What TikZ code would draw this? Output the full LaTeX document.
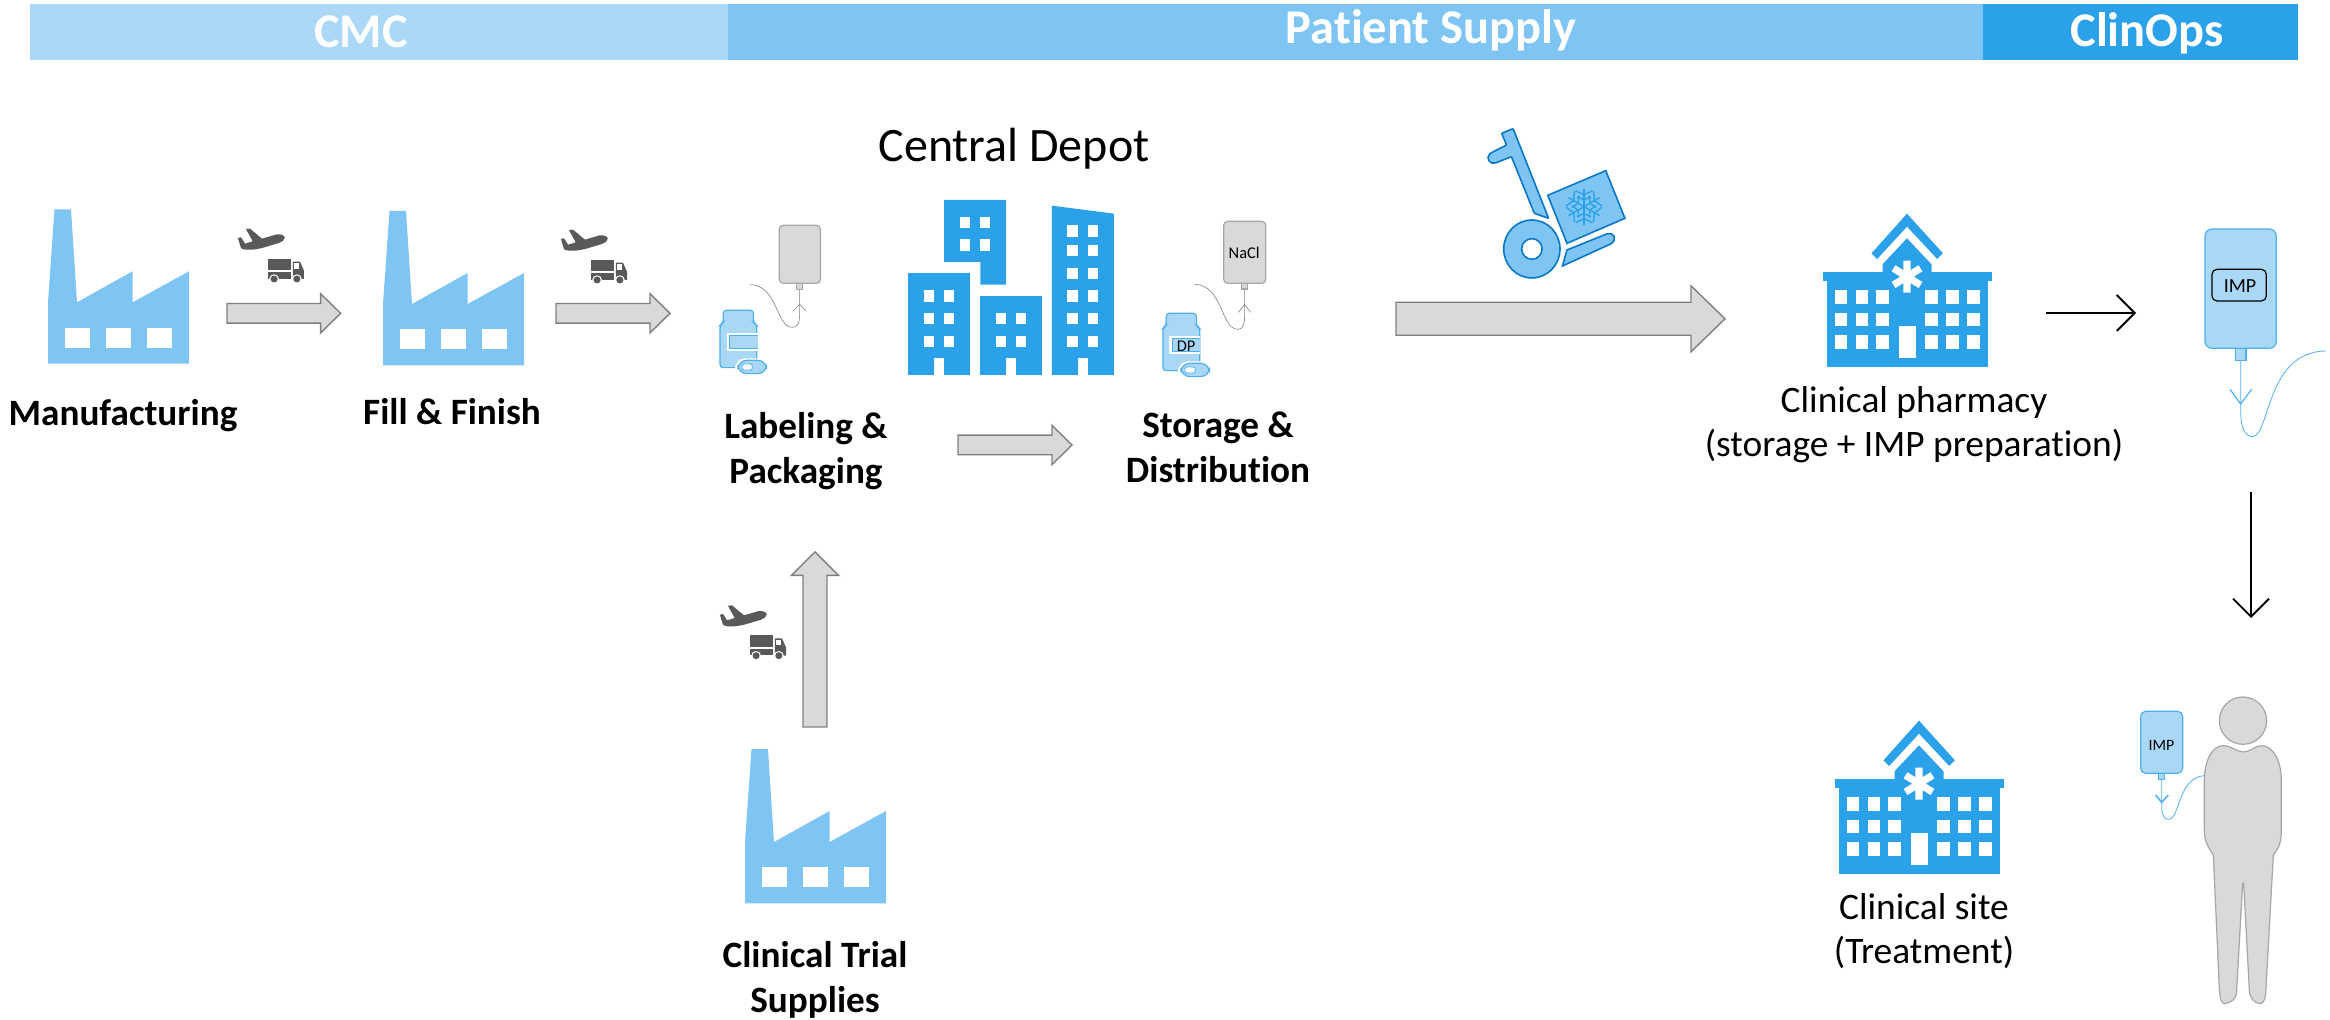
\documentclass[tikz,border=0pt]{standalone}
\usepackage{fontspec}
\setmainfont[Ligatures=CommonOff]{Carlito}
\usetikzlibrary{calc,arrows.meta}
\definecolor{barA}{HTML}{ABD8F7}
\definecolor{barB}{HTML}{7FC5F3}
\definecolor{barC}{HTML}{2AA1E9}
\definecolor{cartline}{HTML}{0A78C8}
\definecolor{bagfill}{HTML}{A9D8F7}
\definecolor{bagline}{HTML}{4FB0EE}
\definecolor{greyfill}{HTML}{D9D9D9}
\definecolor{greyline}{HTML}{A6A6A6}
\definecolor{arrline}{HTML}{7F7F7F}
\definecolor{iconDark}{HTML}{595959}
\tikzset{
  x=0.5pt,y=-0.5pt,
  bartext/.style={text=white,font=\fontsize{24.2}{28}\selectfont\bfseries,inner sep=0pt,anchor=base},
  steplabel/.style={align=center,font=\fontsize{18.6}{22.5}\selectfont\bfseries,inner sep=0pt},
  plainlabel/.style={align=center,font=\fontsize{18.7}{22}\selectfont,inner sep=0pt},
  blockline/.style={fill=greyfill,draw=arrline,line width=0.7pt,line join=miter},
  thinarrow/.style={draw=black,line width=0.9pt,-{Straight Barb[length=9pt,width=18pt,line width=0.9pt]}},
  zoomA/.style={shift={(0,180)},xscale=0.4464,yscale=0.3333},
  zoomB/.style={shift={(680,180)},xscale=0.4082,yscale=0.3333},
  zoomC/.style={shift={(1380,110)},xscale=0.4082,yscale=0.3333},
  cartpart/.style={fill=barB,draw=cartline,line width=0.8pt,line join=miter},
  bagbody/.style={fill=bagfill,draw=bagline,line width=0.6pt},
  greybag/.style={fill=greyfill,draw=greyline,line width=0.6pt},
  tube/.style={draw=bagline,line width=0.4pt},
  greytube/.style={draw=arrline,line width=0.3pt},
}
\newcommand{\factoryicon}[2]{%
  \begin{scope}[shift={(#1,#2)}]
    \fill[barB] (6.5,0)--(23,0)--(29,93)--(84.6,62)--(84.6,93)--(141,62)--(141,154.4)--(0,154.4)--(0,93)--cycle;
    \foreach \wx in {17,58,99}{\fill[white] (\wx,118.4) rectangle ++(25,20);}
  \end{scope}}
\newcommand{\planetruck}[2]{%
  \begin{scope}[shift={(#1,#2)}]
  \begin{scope}[zoomA]
    \fill[iconDark] (638,172) .. controls (636,165) and (628,162) .. (620,163) -- (587,176) -- (560,146) -- (551,147) -- (566,184) -- (549,191) -- (540,172) -- (533,174) -- (540,205) .. controls (548,212) and (570,210) .. (590,203) -- (625,189) .. controls (632,186) and (638,180) .. (638,172) -- cycle;
    \fill[iconDark] (600,236) rectangle (652,270);
    \fill[iconDark] (600,276) rectangle (652,296);
    \fill[iconDark] (656,245)--(672,245)--(681,272)--(681,297)--(656,297)--cycle;
    \fill[white] (659,250) rectangle (669,266);
    \foreach \wx in {614,665}{
      \fill[white] (\wx,297) circle [x radius=11, y radius=14];
      \fill[iconDark] (\wx,297) circle [x radius=8, y radius=10.5];
    }
  \end{scope}
  \end{scope}}
\newcommand{\blockarrow}[5]{%
  \coordinate (headbase) at ($(#2)!#5!(#1)$);
  \draw[blockline] ($(#1)!#3!90:(#2)$) -- ($(headbase)!#3!90:(#2)$) -- ($(headbase)!#4!90:(#2)$) -- (#2)
    -- ($(headbase)!#4!-90:(#2)$) -- ($(headbase)!#3!-90:(#2)$) -- ($(#1)!#3!-90:(#2)$) -- cycle;}
\newcommand{\bottleicon}[3]{%
  \begin{scope}[shift={(#1,#2)}]
    \draw[bagbody,rounded corners=1.5pt] (106,391)--(180,391)--(180,428)--(188,435)--(188,563)--(98,563)--(98,435)--(106,428)--cycle;
    \fill[white] (114,460) rectangle (190,513);
    \draw[bagbody] (190,467)--(122,467)--(122,505)--(190,505);
    \fill[white,rounded corners=5pt] (135,535) rectangle (218,587);
    \draw[bagbody,rounded corners=4.5pt] (142,541) rectangle (212,581);
    \draw[fill=white,draw=bagline,line width=0.4pt,rounded corners=1pt] (152,552) rectangle (177,570);
    #3
  \end{scope}}
\newcommand{\hospitalicon}[2]{%
  \begin{scope}[shift={(#1,#2)}]
  \begin{scope}[zoomC]
    \fill[barC] (1204,430)--(1291,311)--(1379,430)--(1365,447)--(1291,350)--(1218,447)--cycle;
    \fill[barC] (1231,486)--(1231,463)--(1291,385)--(1351,463)--(1351,486)--cycle;
    \fill[barC] (1084,486) rectangle (1499,513);
    \fill[barC] (1094,513) rectangle (1489,771);
    \foreach \wy in {540,608,676}{
      \foreach \wx in {1114,1165,1215,1336,1387,1438}{
        \fill[white] (\wx,\wy) rectangle ++(31,41);
      }
    }
    \fill[white] (1271,649) rectangle (1312,745);
    \draw[white,line width=3.6pt] (1291,452)--(1291,548) (1258,475)--(1324,525) (1258,525)--(1324,475);
  \end{scope}
  \end{scope}}
\begin{document}
\begin{tikzpicture}
\useasboundingbox (0,0) rectangle (2330,1020);
% top bar
\fill[barA] (30,4) rectangle (728,60);
\fill[barB] (728,4) rectangle (1983,60);
\fill[barC] (1983,4) rectangle (2298,60);
\node[bartext] (cmc) at (361,48) {CMC};
\node[bartext] (patient) at (1431,44) {Patient Supply};
\node[bartext] (clinops) at (2147,47) {ClinOps};
% factories
\factoryicon{48}{209.3}
\factoryicon{383}{211}
\factoryicon{745}{749}
\planetruck{0}{0}
\planetruck{323}{1}
\planetruck{482}{376.7}
% labels
\node[steplabel] (manu) at (123,416) {Manufacturing};
\node[steplabel] (fill) at (452,412) {Fill \& Finish};
\node[steplabel] (label) at (806,451) {Labeling \&\\Packaging};
\node[steplabel] (stor) at (1218,447) {Storage \&\\Distribution};
\node[steplabel] (trial) at (815,980) {Clinical Trial\\Supplies};
\node[inner sep=0pt,font=\fontsize{24}{28}\selectfont] (depot) at (1014,149) {Central Depot};
\node[plainlabel] (pharm) at (1914,425) {Clinical pharmacy\\(storage + IMP preparation)};
\node[plainlabel] (site) at (1924,931) {Clinical site\\(Treatment)};
% block arrows
\coordinate (a1s) at (227,313.3); \coordinate (a1e) at (340.6,313.3);
\coordinate (a2s) at (556,313.3); \coordinate (a2e) at (670,313.3);
\coordinate (a3s) at (958,445); \coordinate (a3e) at (1072,445);
\coordinate (a4s) at (1396,318.8); \coordinate (a4e) at (1725,318.8);
\coordinate (a5s) at (815,727); \coordinate (a5e) at (815,552);
\blockarrow{a1s}{a1e}{4.9pt}{9.8pt}{10pt}
\blockarrow{a2s}{a2e}{4.9pt}{9.8pt}{10pt}
\blockarrow{a3s}{a3e}{4.9pt}{9.8pt}{10pt}
\blockarrow{a4s}{a4e}{8.25pt}{16.5pt}{17pt}
\blockarrow{a5s}{a5e}{6pt}{11.8pt}{11.7pt}
% central depot and grey bags
\begin{scope}[zoomB]
  \fill[barC] (647,60)--(798,60)--(798,314)--(736,314)--(736,246)--(647,246)--cycle;
  \foreach \wy in {111,178}{\foreach \wx in {685,735}{\fill[white] (\wx,\wy) rectangle ++(25,34);}}
  \fill[barC] (559,280) rectangle (710,585);
  \foreach \wy in {331,399,467}{\foreach \wx in {597,647}{\fill[white] (\wx,\wy) rectangle ++(25,34);}}
  \fill[white] (622,534) rectangle (647,585);
  \fill[barC] (735,348) rectangle (887,585);
  \foreach \wy in {399,467}{\foreach \wx in {773,823}{\fill[white] (\wx,\wy) rectangle ++(25,34);}}
  \fill[white] (798,534) rectangle (823,585);
  \fill[barC] (911,77)--(1063,101)--(1063,585)--(911,585)--cycle;
  \foreach \wy in {136,195,263,331,399,467}{\foreach \wx in {949,1000}{\fill[white] (\wx,\wy) rectangle ++(25,34);}}
  \fill[white] (975,534) rectangle (1000,585);
  % left bag
  \draw[greytube] (172,314) .. controls (240,316) and (235,442) .. (275,442) .. controls (295,442) and (293,410) .. (293,395) -- (293,328);
  \draw[greytube] (278,393)--(293,372)--(308,393);
  \draw[greybag] (286,310) rectangle (300,328);
  \draw[greybag,rounded corners=2pt] (243,136) rectangle (344,310);
  % right bag
  \draw[greytube] (1261,313) .. controls (1330,315) and (1325,448) .. (1366,448) .. controls (1385,448) and (1383,415) .. (1383,397) -- (1383,327);
  \draw[greytube] (1368,397)--(1383,374)--(1398,397);
  \draw[greybag] (1375,310) rectangle (1391,327);
  \draw[greybag,rounded corners=2pt] (1332,124) rectangle (1435,310);
  \node[inner sep=0pt,font=\fontsize{8.2}{10}\selectfont] (nacl) at (1382,220) {NaCl};
  \bottleicon{0}{0}{}
  \bottleicon{1085}{9}{\node[inner sep=0pt,font=\fontsize{8.2}{10}\selectfont] (dp) at (155,491) {DP};}
\end{scope}
% cart
\begin{scope}[zoomC]
  \draw[cartpart,rounded corners=0.4pt] (298,70)--(326,56)--(413,325)--(378,310)--(322,140)--(285,158)
     .. controls (270,165) and (258,145) .. (270,130) -- (310,105) -- cycle;
  \draw[cartpart] (411,256)--(553,182)--(600,325)--(458,400)--cycle;
  \draw[cartpart] (372,417) circle [x radius=69, y radius=87];
  \draw[fill=white,draw=cartline,line width=0.8pt] (372,417) circle [x radius=25, y radius=31];
  \draw[cartpart] (458,420)--(555,372) .. controls (575,365) and (582,390) .. (565,402) -- (447,468)--cycle;
\end{scope}
\begin{scope}[shift={(1584,206.7)},barC,line width=0.7pt]
  \foreach \ang in {30,90,150,210,270,330}{
    \draw[barC] (0,0) -- (\ang:18);
    \draw[barC] (\ang+35:12) -- (\ang:7) -- (\ang-35:12);
    \draw[barC] (\ang+28:18) -- (\ang:12) -- (\ang-28:18);
  }
\end{scope}
% hospitals
\hospitalicon{0}{0}
\hospitalicon{12}{507}
% black arrows
\coordinate (k1s) at (2046,313); \coordinate (k1e) at (2136,313);
\coordinate (k2s) at (2251,492); \coordinate (k2e) at (2251,618);
\draw[thinarrow] (k1s) -- (k1e);
\draw[thinarrow] (k2s) -- (k2e);
% IMP bag
\begin{scope}[shift={(2040,200)},scale=0.3333]
  \draw[tube] (602,481) -- (602,640) .. controls (604,700) and (625,712) .. (640,710) .. controls (690,700) and (680,455) .. (858,453);
  \draw[tube,line width=0.6pt] (570,568)--(602,612)--(635,568);
  \draw[bagbody] (586,445) rectangle (618,481);
  \draw[bagbody,rounded corners=3.5pt] (495,87) rectangle (709,445);
  \draw[black,line width=0.6pt,rounded corners=2.5pt] (516,208) rectangle (679,303);
  \node[inner sep=0pt,font=\fontsize{10}{12}\selectfont] (imp) at (600,258) {IMP};
\end{scope}
% patient
\begin{scope}[shift={(2090,680)},scale=0.3333]
  \draw[greybag] (459,122) circle [radius=71];
  \draw[greybag] (460,216) .. controls (440,216) and (425,197) .. (400,197)
    .. controls (365,197) and (343,245) .. (343,300) -- (343,450)
    .. controls (343,490) and (358,505) .. (370,525) -- (388,925)
    .. controls (390,960) and (395,972) .. (405,971) .. controls (425,968) and (442,955) .. (440,930)
    -- (458,610) -- (461,610) -- (478,930) .. controls (478,955) and (495,970) .. (510,971)
    .. controls (522,971) and (527,955) .. (528,925) -- (550,525)
    .. controls (562,510) and (574,495) .. (574,450) -- (574,300)
    .. controls (574,245) and (550,197) .. (515,197) .. controls (495,197) and (480,216) .. (460,216) -- cycle;
  \draw[tube] (215,298) -- (215,385) .. controls (217,410) and (225,420) .. (238,418) .. controls (270,412) and (265,290) .. (345,287);
  \draw[tube,line width=0.8pt] (197,345)--(215,367)--(235,345);
  \draw[bagbody] (205,280) rectangle (224,298);
  \draw[bagbody,rounded corners=2.5pt] (152,94) rectangle (278,280);
  \node[inner sep=0pt,font=\fontsize{7.9}{10}\selectfont] (impsmall) at (214,195) {IMP};
\end{scope}
\end{tikzpicture}
\end{document}
